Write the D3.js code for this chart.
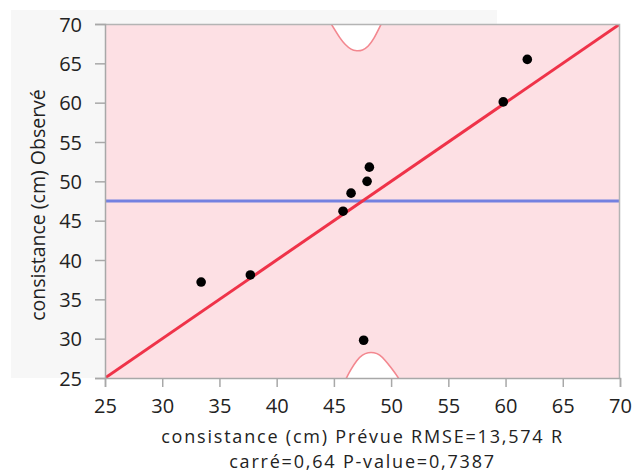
<!DOCTYPE html>
<html>
<head>
<meta charset="utf-8">
<script src="https://cdn.jsdelivr.net/npm/d3@7"></script>
<style>
  body { margin: 0; background: #fff; }
  text { font-family: "Open Sans", "Noto Sans", sans-serif; fill: #222; }
</style>
</head>
<body>
<div id="chart"></div>
<script>
// Observed points (x = predicted, y = observed)
const predicted = [33.4, 37.7, 45.8, 46.5, 47.9, 48.1, 47.6, 59.8, 61.9];
const observed  = [37.2, 38.1, 46.2, 48.5, 50.0, 51.8, 29.8, 60.1, 65.5];
const meanObserved = 47.5;

// Confidence curves
const upperCurveX = [44.6, 45.5, 46, 46.5, 47, 47.5, 48, 48.5, 49, 49.3];
const upperCurveY = [70.4, 68.3, 67.4, 66.8, 66.6, 66.7, 67.2, 68.2, 69.6, 70.5];
const lowerCurveX = [45.9, 46.2, 46.5, 47, 47.5, 48, 48.5, 49, 49.5, 50, 50.5, 50.8];
const lowerCurveY = [24.4, 25.3, 26.1, 27.2, 27.9, 28.2, 28.2, 27.9, 27.2, 26.3, 25.3, 24.6];

const xTicks = [25, 30, 35, 40, 45, 50, 55, 60, 65, 70];
const yTicks = [25, 30, 35, 40, 45, 50, 55, 60, 65, 70];
const xTitle = ['consistance (cm) Prévue RMSE=13,574 R', 'carré=0,64 P-value=0,7387'];
const yTitle = 'consistance (cm) Observé';

const W = 632, H = 474;
const margin = { top: 24, right: 12, bottom: 96, left: 105 };
const width = W - margin.left - margin.right;
const height = H - margin.top - margin.bottom;

const svg = d3.select('#chart').append('svg')
  .attr('width', W)
  .attr('height', H);

// light gray panel behind the plot
svg.append('rect')
  .attr('x', 11).attr('y', 10)
  .attr('width', 486).attr('height', 368)
  .attr('fill', '#f7f7f7');

const g = svg.append('g')
  .attr('transform', `translate(${margin.left},${margin.top})`);

const x = d3.scaleLinear().domain([25, 70]).range([0, width]);
const y = d3.scaleLinear().domain([25, 70]).range([height, 0]);

g.append('clipPath').attr('id', 'clip')
  .append('rect').attr('width', width).attr('height', height);

const plot = g.append('g').attr('clip-path', 'url(#clip)');

plot.append('rect')
  .attr('width', width).attr('height', height)
  .attr('fill', '#fde0e4');

const upper = upperCurveX.map((d, i) => [d, upperCurveY[i]]);
const lower = lowerCurveX.map((d, i) => [d, lowerCurveY[i]]);

const curveLine = d3.line()
  .x(d => x(d[0]))
  .y(d => y(d[1]))
  .curve(d3.curveNatural);

// white caps outside the confidence curves
plot.append('path')
  .attr('d', d3.area().x(d => x(d[0])).y0(y(80)).y1(d => y(d[1])).curve(d3.curveNatural)(upper))
  .attr('fill', '#fff');
plot.append('path')
  .attr('d', d3.area().x(d => x(d[0])).y0(y(15)).y1(d => y(d[1])).curve(d3.curveNatural)(lower))
  .attr('fill', '#fff');

[upper, lower].forEach(c => {
  plot.append('path')
    .attr('d', curveLine(c))
    .attr('fill', 'none')
    .attr('stroke', '#f3878f')
    .attr('stroke-width', 1.6);
});

// mean line
plot.append('line')
  .attr('x1', 0).attr('x2', width)
  .attr('y1', y(meanObserved)).attr('y2', y(meanObserved))
  .attr('stroke', '#7481e0')
  .attr('stroke-width', 3);

// fit line
plot.append('line')
  .attr('x1', x(25)).attr('y1', y(25))
  .attr('x2', x(70)).attr('y2', y(70))
  .attr('stroke', '#ef3349')
  .attr('stroke-width', 3);

plot.selectAll('circle')
  .data(predicted)
  .join('circle')
  .attr('cx', d => x(d))
  .attr('cy', (d, i) => y(observed[i]))
  .attr('r', 4.8)
  .attr('fill', '#000');

// frame top/right
g.append('path')
  .attr('d', `M0,0.5H${width - 0.5}V${height}`)
  .attr('fill', 'none')
  .attr('stroke', '#b4b4b4')
  .attr('stroke-width', 1.5);

const xAxis = g.append('g')
  .attr('transform', `translate(0,${height})`)
  .call(d3.axisBottom(x).tickValues(xTicks).tickSize(9).tickPadding(12));
const yAxis = g.append('g')
  .call(d3.axisLeft(y).tickValues(yTicks).tickSize(10).tickPadding(13));

[xAxis, yAxis].forEach(a => {
  a.selectAll('path, line').attr('stroke', '#a8a8a8').attr('stroke-width', 1.5);
  a.selectAll('text')
    .attr('font-size', 20)
    .attr('font-family', '"Open Sans", "Noto Sans", sans-serif')
    .attr('fill', '#222');
});
yAxis.selectAll('text').attr('dy', '0.36em');

// x title, wrapped on two lines
svg.append('text')
  .attr('text-anchor', 'middle')
  .attr('font-size', 18)
  .attr('letter-spacing', 1.8)
  .selectAll('tspan')
  .data(xTitle)
  .join('tspan')
  .attr('x', margin.left + width / 2)
  .attr('y', (d, i) => 443 + i * 25)
  .text(d => d);

svg.append('text')
  .attr('transform', `translate(45,${margin.top + height / 2 + 4}) rotate(-90)`)
  .attr('text-anchor', 'middle')
  .attr('font-size', 19.5)
  .text(yTitle);
</script>
</body>
</html>
